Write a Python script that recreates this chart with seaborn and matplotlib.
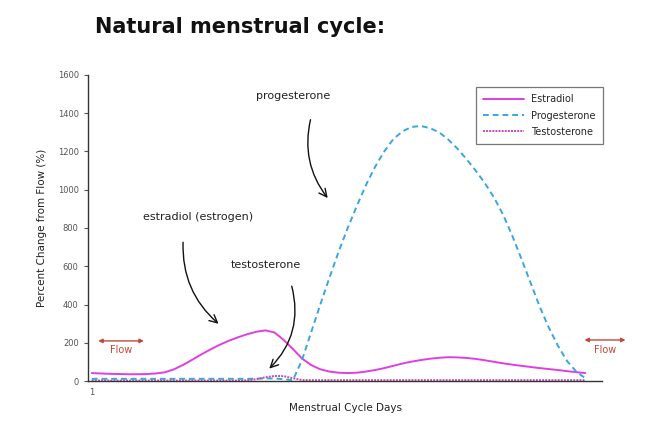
import numpy as np
import pandas as pd
import matplotlib
matplotlib.use("Agg")
import matplotlib.pyplot as plt
import seaborn as sns

# data (half-day steps, day 1..28)
days = [1.0, 1.5, 2.0, 2.5, 3.0, 3.5, 4.0, 4.5, 5.0, 5.5, 6.0, 6.5, 7.0, 7.5,
        8.0, 8.5, 9.0, 9.5, 10.0, 10.5, 11.0, 11.5, 12.0, 12.5, 13.0, 13.5,
        14.0, 14.5, 15.0, 15.5, 16.0, 16.5, 17.0, 17.5, 18.0, 18.5, 19.0,
        19.5, 20.0, 20.5, 21.0, 21.5, 22.0, 22.5, 23.0, 23.5, 24.0, 24.5,
        25.0, 25.5, 26.0, 26.5, 27.0, 27.5, 28.0]

estradiol = [42, 40, 38, 37, 36, 36, 37, 40, 46, 62, 85, 112, 140, 166,
             190, 211, 229, 245, 258, 265, 254, 215, 168, 118, 84, 62,
             50, 44, 42, 44, 50, 58, 68, 80, 92, 102, 110,
             117, 122, 125, 124, 121, 116, 109, 101, 93, 86, 80,
             74, 68, 63, 58, 52, 47, 42]

progesterone = [12, 12, 12, 12, 12, 12, 12, 12, 12, 12, 12, 12, 12, 12,
                12, 12, 12, 12, 13, 14, 14, 10, 5, 110, 255, 400,
                540, 675, 800, 915, 1025, 1120, 1200, 1265, 1305, 1328, 1333,
                1322, 1300, 1262, 1215, 1160, 1100, 1035, 960, 870, 760, 640,
                515, 390, 280, 185, 105, 50, 15]

testosterone = [3, 3, 3, 3, 3, 3, 3, 3, 3, 3, 3, 3, 3, 3,
                3, 3, 3, 4, 10, 20, 27, 26, 15, 6, 5, 5,
                5, 5, 5, 5, 5, 5, 5, 5, 5, 5, 5,
                5, 5, 5, 5, 5, 5, 5, 5, 5, 5, 5,
                5, 5, 5, 5, 5, 5, 5]

hormones = ["Estradiol", "Progesterone", "Testosterone"]
colors = {"Estradiol": "#e03fe0", "Progesterone": "#3aa6dc", "Testosterone": "#c04cb4"}
dash_map = {"Estradiol": "", "Progesterone": (3, 2), "Testosterone": (1, 0.6)}

df = pd.DataFrame({
    "day": days * 3,
    "value": estradiol + progesterone + testosterone,
    "hormone": sum([[h] * len(days) for h in hormones], []),
})

sns.set_style("ticks")
plt.rcParams["font.family"] = ["DejaVu Sans"]

fig = plt.figure(figsize=(6.7, 4.23), dpi=100)
ax = fig.add_axes([0.131, 0.099, 0.768, 0.724])

sns.lineplot(data=df, x="day", y="value", hue="hormone", style="hormone",
             palette=colors, dashes=dash_map, hue_order=hormones,
             style_order=hormones, linewidth=1.4, ax=ax)

ax.set_xlim(0.78, 28.93)
ax.set_ylim(0, 1600)
ax.set_yticks(range(0, 1601, 200))
ax.set_xticks([1])
ax.set_xticklabels(["1"])
ax.tick_params(axis="both", labelsize=6, colors="#555555", length=3, width=0.8)
ax.tick_params(axis="x", length=0, pad=5)
for s in ["top", "right"]:
    ax.spines[s].set_visible(False)
for s in ["left", "bottom"]:
    ax.spines[s].set_color("#333333")
    ax.spines[s].set_linewidth(1.0)

ax.set_xlabel("Menstrual Cycle Days", fontsize=7.5, color="#222222", labelpad=4)
ax.set_ylabel("Percent Change from Flow (%)", fontsize=7.5, color="#222222", labelpad=8)

leg = ax.legend(loc="upper right", bbox_to_anchor=(1.01, 0.975), fontsize=7,
                frameon=True, fancybox=False, edgecolor="#555555",
                handlelength=4.2, borderpad=0.7, labelspacing=0.65)
leg.get_frame().set_linewidth(0.9)

# hand-drawn style callouts
ann_kw = dict(fontsize=8, color="#222222", ha="center", va="center")
arrow = dict(arrowstyle="->", color="#111111", lw=1.0, mutation_scale=14)

ax.text(12.0, 1490, "progesterone", **ann_kw)
ax.annotate("", xy=(14.0, 945), xytext=(13.0, 1380),
            arrowprops=dict(arrow, connectionstyle="arc3,rad=0.25"))

ax.text(6.8, 860, "estradiol (estrogen)", **ann_kw)
ax.annotate("", xy=(8.05, 290), xytext=(6.0, 740),
            arrowprops=dict(arrow, connectionstyle="arc3,rad=0.25"))

ax.text(10.5, 605, "testosterone", **ann_kw)
ax.annotate("", xy=(10.6, 55), xytext=(11.9, 510),
            arrowprops=dict(arrow, connectionstyle="arc3,rad=-0.3"))

# flow markers
flow_c = "#c4463a"
ax.annotate("", xy=(1.2, 210), xytext=(4.0, 210), annotation_clip=False,
            arrowprops=dict(arrowstyle="<|-|>", color=flow_c, lw=1.0, mutation_scale=6))
ax.text(2.6, 160, "Flow", fontsize=7, color=flow_c, ha="center", va="center")
ax.annotate("", xy=(27.8, 215), xytext=(30.35, 215), annotation_clip=False,
            arrowprops=dict(arrowstyle="<|-|>", color=flow_c, lw=1.0, mutation_scale=6))
ax.text(29.1, 165, "Flow", fontsize=7, color=flow_c, ha="center", va="center")

fig.text(0.142, 0.935, "Natural menstrual cycle:", fontsize=15,
         fontweight="bold", family=["DejaVu Sans"], color="#111111",
         ha="left", va="center")

fig.savefig("out.png", dpi=100)
